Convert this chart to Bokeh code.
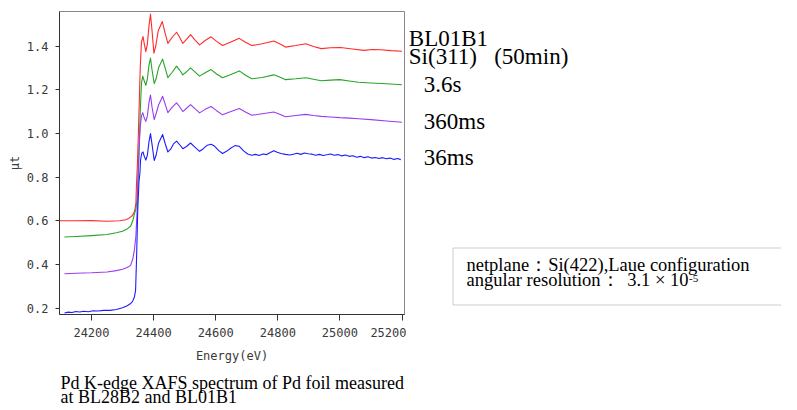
from bokeh.plotting import figure
from bokeh.layouts import column, row
from bokeh.models import Label, BoxAnnotation, FixedTicker, PrintfTickFormatter, Range1d
from bokeh.embed import file_html
from bokeh.resources import INLINE

# ---------------- data ----------------
x_ticks = [24200, 24400, 24600, 24800, 25000, 25200]
y_ticks = [0.2, 0.4, 0.6, 0.8, 1.0, 1.2, 1.4]

# BL01B1 Si(311) 50 min (red)
red_e = [24097, 24150, 24200, 24250, 24290, 24310, 24320, 24330, 24336, 24340,
         24343, 24345, 24348, 24351, 24354, 24357, 24361, 24366, 24370, 24375,
         24380, 24385, 24390, 24395, 24401, 24407, 24415, 24428, 24437, 24446,
         24460, 24474, 24484, 24494, 24506, 24519, 24533, 24548, 24566, 24585,
         24603, 24622, 24649, 24676, 24696, 24716, 24750, 24787, 24806, 24825,
         24858, 24890, 24915, 24940, 24970, 25002, 25040, 25077, 25105, 25131,
         25165, 25200]
red_mu = [0.600, 0.600, 0.601, 0.598, 0.600, 0.605, 0.611, 0.622, 0.634, 0.652,
          0.680, 0.77, 0.86, 1.00, 1.15, 1.30, 1.42, 1.443, 1.41, 1.374,
          1.41, 1.49, 1.546, 1.47, 1.367, 1.40, 1.47, 1.512, 1.46, 1.412,
          1.44, 1.463, 1.44, 1.412, 1.43, 1.452, 1.428, 1.405, 1.425, 1.442,
          1.421, 1.402, 1.418, 1.435, 1.417, 1.402, 1.41, 1.423, 1.41, 1.395,
          1.402, 1.41, 1.398, 1.388, 1.392, 1.393, 1.386, 1.38, 1.384, 1.383,
          1.379, 1.376]

# 3.6 s (green)
green_e = [24113, 24150, 24200, 24250, 24280, 24300, 24315, 24326, 24333, 24338,
           24343, 24347, 24350, 24353, 24357, 24361, 24365, 24370, 24375, 24380,
           24385, 24390, 24395, 24402, 24408, 24416, 24429, 24437, 24446, 24460,
           24474, 24484, 24494, 24506, 24519, 24533, 24548, 24566, 24585, 24603,
           24622, 24649, 24676, 24696, 24716, 24750, 24787, 24806, 24825, 24858,
           24890, 24915, 24940, 24970, 25000, 25030, 25060, 25100, 25150, 25200]
green_mu = [0.526, 0.528, 0.532, 0.537, 0.545, 0.552, 0.563, 0.575, 0.600, 0.630,
            0.655, 0.70, 0.78, 0.90, 1.10, 1.23, 1.262, 1.24, 1.22, 1.25,
            1.31, 1.345, 1.29, 1.228, 1.25, 1.30, 1.340, 1.30, 1.255, 1.28,
            1.308, 1.29, 1.268, 1.282, 1.300, 1.282, 1.262, 1.278, 1.292, 1.272,
            1.255, 1.270, 1.286, 1.266, 1.250, 1.256, 1.268, 1.258, 1.246, 1.250,
            1.255, 1.248, 1.241, 1.244, 1.246, 1.240, 1.234, 1.231, 1.227, 1.223]

# 360 ms (purple)
purple_e = [24113, 24150, 24200, 24250, 24280, 24300, 24315, 24326, 24333, 24338,
            24343, 24347, 24350, 24353, 24357, 24361, 24365, 24370, 24375, 24380,
            24385, 24390, 24395, 24402, 24408, 24416, 24429, 24437, 24446, 24460,
            24474, 24484, 24494, 24506, 24519, 24533, 24548, 24566, 24585, 24603,
            24622, 24649, 24676, 24696, 24716, 24750, 24787, 24806, 24825, 24858,
            24890, 24915, 24940, 24970, 25000, 25030, 25060, 25100, 25150, 25200]
purple_mu = [0.358, 0.360, 0.362, 0.366, 0.372, 0.378, 0.386, 0.396, 0.425, 0.465,
             0.53, 0.65, 0.80, 0.93, 1.03, 1.08, 1.095, 1.07, 1.055, 1.08,
             1.14, 1.176, 1.12, 1.063, 1.09, 1.13, 1.170, 1.135, 1.095, 1.12,
             1.140, 1.122, 1.100, 1.115, 1.132, 1.113, 1.094, 1.110, 1.123, 1.104,
             1.085, 1.100, 1.114, 1.098, 1.083, 1.090, 1.098, 1.088, 1.076, 1.082,
             1.087, 1.082, 1.078, 1.075, 1.072, 1.070, 1.067, 1.063, 1.057, 1.051]

# 36 ms (blue)
blue_e = [24113, 24125, 24137, 24150, 24162, 24175, 24190, 24205, 24220, 24240,
          24260, 24280, 24300, 24315, 24325, 24332, 24338, 24342, 24345, 24349,
          24353, 24356, 24358, 24362, 24366, 24370, 24375, 24380, 24385, 24390,
          24395, 24402, 24408, 24416, 24429, 24437, 24446, 24455, 24464, 24474,
          24484, 24494, 24506, 24519, 24533, 24548, 24560, 24573, 24585, 24596,
          24610, 24622, 24635, 24648, 24662, 24676, 24690, 24703, 24716, 24728,
          24740, 24752, 24764, 24776, 24787, 24798, 24810, 24825, 24838, 24850,
          24862, 24874, 24886, 24898, 24910, 24922, 24934, 24946, 24958, 24970,
          24982, 24994, 25006, 25018, 25030, 25042, 25054, 25066, 25078, 25090,
          25102, 25114, 25126, 25138, 25150, 25162, 25174, 25186, 25196]
blue_mu = [0.178, 0.182, 0.180, 0.185, 0.183, 0.186, 0.184, 0.188, 0.187, 0.190,
           0.190, 0.194, 0.202, 0.211, 0.220, 0.230, 0.250, 0.282, 0.42, 0.65,
           0.78, 0.82, 0.877, 0.91, 0.915, 0.895, 0.878, 0.90, 0.96, 0.999,
           0.95, 0.876, 0.90, 0.955, 0.995, 0.955, 0.915, 0.928, 0.952, 0.965,
           0.948, 0.930, 0.940, 0.956, 0.937, 0.918, 0.930, 0.946, 0.950, 0.942,
           0.921, 0.908, 0.918, 0.932, 0.944, 0.941, 0.920, 0.906, 0.900, 0.904,
           0.899, 0.906, 0.903, 0.913, 0.921, 0.914, 0.908, 0.904, 0.901, 0.905,
           0.909, 0.904, 0.910, 0.907, 0.905, 0.900, 0.904, 0.899, 0.902, 0.906,
           0.900, 0.903, 0.897, 0.901, 0.895, 0.898, 0.891, 0.895, 0.889, 0.893,
           0.887, 0.890, 0.885, 0.889, 0.884, 0.887, 0.881, 0.885, 0.880]

series = [
    (red_e, red_mu, "#ff2a2a"),
    (green_e, green_mu, "#26a526"),
    (purple_e, purple_mu, "#9a3cf0"),
    (blue_e, blue_mu, "#1c1cff"),
]

series_labels = ["BL01B1", "Si(311)\u00a0\u00a0\u00a0(50min)", "3.6s", "360ms", "36ms"]
box_line1 = "netplane\uff1aSi(422),Laue configuration"
box_line2a = "angular resolution\uff1a"
box_line2b = "3.1 \u00d7 10"
box_sup = "-5"
caption = ["Pd K-edge XAFS spectrum of Pd foil measured", "at BL28B2 and BL01B1"]

SERIF = "Liberation Serif"
TOTAL_W = 781
LEFT_W = 406
TOP_H = 368
CAP_H = 40
FRAME_TOP = 11
FRAME_BOTTOM = 314


def mid(baseline, size):
    """vertical centre of a text line whose baseline sits at `baseline` (page px)"""
    return baseline - 0.335 * size


# ---------------- main plot ----------------
p = figure(width=LEFT_W, height=TOP_H, x_range=(24097, 25208), y_range=(0.1712, 1.5579),
           output_backend="svg", toolbar_location=None,
           min_border_left=59, min_border_right=2, min_border_top=FRAME_TOP,
           min_border_bottom=TOP_H - FRAME_BOTTOM)
p.xgrid.visible = False
p.ygrid.visible = False
p.outline_line_color = "#8a8a8a"
p.outline_line_width = 1
p.background_fill_color = "white"
p.border_fill_color = "white"

for e, mu, c in series:
    p.line(e, mu, line_color=c, line_width=1.1, line_join="round")

for ax in (p.xaxis[0], p.yaxis[0]):
    ax.axis_line_color = "#333333"
    ax.major_tick_line_color = "#333333"
    ax.minor_tick_line_color = None
    ax.major_tick_in = 0
    ax.major_label_text_font = "DejaVu Sans Mono"
    ax.major_label_text_font_size = "12px"
    ax.major_label_text_color = "#3a3a3a"
    ax.axis_label_text_font = "DejaVu Sans Mono"
    ax.axis_label_text_font_size = "12px"
    ax.axis_label_text_font_style = "normal"
    ax.axis_label_text_color = "#3a3a3a"

p.xaxis.ticker = FixedTicker(ticks=x_ticks)
p.yaxis.ticker = FixedTicker(ticks=y_ticks)
p.yaxis.formatter = PrintfTickFormatter(format="%.1f")
p.xaxis.major_tick_out = 6
p.yaxis.major_tick_out = 4
p.xaxis.major_label_standoff = 7
p.yaxis.major_label_standoff = 7
p.xaxis.axis_label = "Energy(eV)"
p.yaxis.axis_label = "\u03bct"
p.xaxis.axis_label_standoff = 9
p.yaxis.axis_label_standoff = 2


def blank(width, height, xr, yr, top=0, bottom=0):
    f = figure(width=width, height=height, x_range=Range1d(*xr), y_range=Range1d(*yr),
               output_backend="svg", toolbar_location=None,
               x_axis_location=None, y_axis_location=None,
               min_border_left=0, min_border_right=0,
               min_border_top=top, min_border_bottom=bottom)
    f.xgrid.visible = False
    f.ygrid.visible = False
    f.outline_line_color = None
    f.background_fill_color = "white"
    f.border_fill_color = "white"
    return f


# ---------------- right-hand annotations (page pixel coordinates) ----------------
pr = blank(TOTAL_W - LEFT_W, TOP_H, (LEFT_W, TOTAL_W), (FRAME_BOTTOM, FRAME_TOP),
           top=FRAME_TOP, bottom=TOP_H - FRAME_BOTTOM)
lab_pos = [(408.3, 45.7), (408.3, 63.3), (423.3, 91.7), (423.3, 128.3), (423.3, 164.3)]
for t, (x, y) in zip(series_labels, lab_pos):
    pr.add_layout(Label(x=x, y=mid(y, 23), text=t, text_font=SERIF, text_font_size="23px",
                        text_color="black", text_baseline="middle", text_align="left"))

pr.add_layout(BoxAnnotation(left=452.5, right=820, top=247.5, bottom=304.5,
                            fill_color=None, fill_alpha=0, line_color="#555555",
                            line_width=1))
pr.add_layout(Label(x=466, y=mid(270.7, 18.5), text=box_line1, text_font=SERIF,
                    text_font_size="18.5px", text_color="black",
                    text_baseline="middle", text_align="left"))
pr.add_layout(Label(x=466, y=mid(285.3, 18.5), text=box_line2a, text_font=SERIF,
                    text_font_size="18.5px", text_color="black",
                    text_baseline="middle", text_align="left"))
pr.add_layout(Label(x=688, y=mid(285.3, 18.5), text=box_line2b, text_font=SERIF,
                    text_font_size="18.5px", text_color="black",
                    text_baseline="middle", text_align="right"))
pr.add_layout(Label(x=688.5, y=mid(281.5, 11), text=box_sup, text_font=SERIF,
                    text_font_size="11px", text_color="black",
                    text_baseline="middle", text_align="left"))

# ---------------- caption ----------------
pc = blank(TOTAL_W, CAP_H, (0, TOTAL_W), (TOP_H + CAP_H, TOP_H))
for t, y in zip(caption, [388.5, 403]):
    pc.add_layout(Label(x=60, y=mid(y, 18), text=t, text_font=SERIF, text_font_size="18px",
                        text_color="black", text_baseline="middle",
                        text_align="left"))

layout = column(row(p, pr, spacing=0), pc, spacing=0)
open("out.html", "w").write(file_html(layout, INLINE))
